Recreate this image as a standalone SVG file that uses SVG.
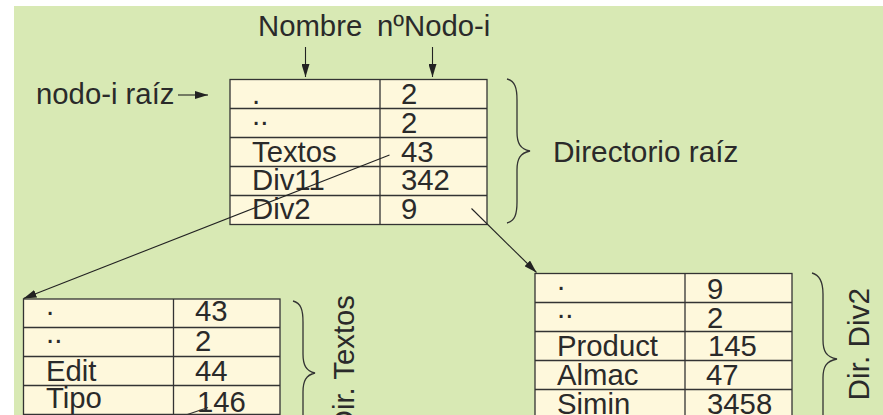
<svg xmlns="http://www.w3.org/2000/svg" width="883" height="415" viewBox="0 0 883 415">
<defs>
<marker id="ah" markerWidth="13" markerHeight="8" refX="13" refY="4" orient="auto" markerUnits="userSpaceOnUse">
<path d="M0,0 L13,4 L0,8 z" fill="#222"/>
</marker>
<style>
text{font-family:"Liberation Sans",Arial,sans-serif;font-size:29.3px;fill:#2a2a2a}
.big{font-size:29.8px}
.cell{fill:#FEF8DC;stroke:#333;stroke-width:1.3}
.ln{stroke:#333;stroke-width:1.3;fill:none}
.conn{stroke:#222;stroke-width:1.1;fill:none;marker-end:url(#ah)}
.brace{stroke:#333;stroke-width:1.3;fill:none}
</style>
</defs>
<rect x="0" y="0" width="883" height="415" fill="#ffffff"/>
<rect x="14" y="6" width="869" height="409" fill="#D8E9B4"/>

<g id="labels">
<text x="258" y="36">Nombre</text>
<text x="377" y="36">nºNodo-i</text>
<text x="36" y="104">nodo-i raíz</text>
<text class="big" x="553" y="162">Directorio raíz</text>
<text transform="translate(354,295) rotate(-90)" text-anchor="end">Dir. Textos</text>
<text class="big" transform="translate(869,400.5) rotate(-90)">Dir. Div2</text>
</g>

<g id="root">
<rect class="cell" x="230" y="79.5" width="257" height="145"/>
<path class="ln" d="M380,79.5 V224.5 M230,108.5 H487 M230,137.5 H487 M230,166.5 H487 M230,195.5 H487"/>
<text x="252" y="104">.</text><text x="401" y="104">2</text>
<text x="252" y="124.5">..</text><text x="401" y="133">2</text>
<text x="252" y="162">Textos</text><text x="401" y="162">43</text>
<text x="252" y="190">Div11</text><text x="401" y="190">342</text>
<text x="252" y="219">Div2</text><text x="401" y="219">9</text>
<path class="brace" d="M507,79 C515,81 517,88 517,100 L517,132 C517,143 520,149 530,151 C520,153 517,159 517,170 L517,202 C517,214 515,221 507,223"/>
</g>

<g id="textos">
<rect class="cell" x="23.5" y="299" width="256.5" height="175"/>
<path class="ln" d="M173.5,299 V474 M23.5,327.5 H280 M23.5,356.5 H280 M23.5,385.5 H280 M23.5,414.5 H280"/>
<text x="46" y="314.5">.</text><text x="195" y="321">43</text>
<text x="46" y="343">..</text><text x="195" y="351">2</text>
<text x="46" y="381">Edit</text><text x="195" y="381">44</text>
<text x="46" y="408">Tipo</text><text x="197" y="411.5">146</text>
<path class="brace" d="M293,301 C301,303 303,310 303,322 L303,354 C303,365 306,371 315,373 C306,375 303,381 303,392 L303,424 C303,436 301,443 293,445"/>
</g>

<g id="div2">
<rect class="cell" x="535" y="273.5" width="257" height="175"/>
<path class="ln" d="M685,273.5 V448.5 M535,302.5 H792 M535,331.5 H792 M535,360.5 H792 M535,389.5 H792"/>
<text x="557" y="290">.</text><text x="707" y="299">9</text>
<text x="557" y="318">..</text><text x="707" y="328">2</text>
<text x="557" y="356">Product</text><text x="708" y="356">145</text>
<text x="557" y="385">Almac</text><text x="706" y="385">47</text>
<text x="557" y="414">Simin</text><text x="707" y="414">3458</text>
<path class="brace" d="M812,273 C820,275 823,282 823,294 L823,340 C823,351 826,357 837,359 C826,361 823,367 823,378 L823,424 C823,436 820,443 812,445"/>
</g>

<g id="connectors">
<line class="conn" x1="305.5" y1="47" x2="305.5" y2="77"/>
<line class="conn" x1="432.5" y1="47" x2="432.5" y2="77"/>
<line class="conn" x1="178" y1="95" x2="208" y2="95"/>
<line class="conn" x1="389.5" y1="155" x2="23.5" y2="298.5"/>
<line class="conn" x1="471.5" y1="208.5" x2="536.5" y2="272.5"/>
<line class="ln" style="stroke-width:1.1" x1="208" y1="407.5" x2="180" y2="417"/>
</g>
</svg>
